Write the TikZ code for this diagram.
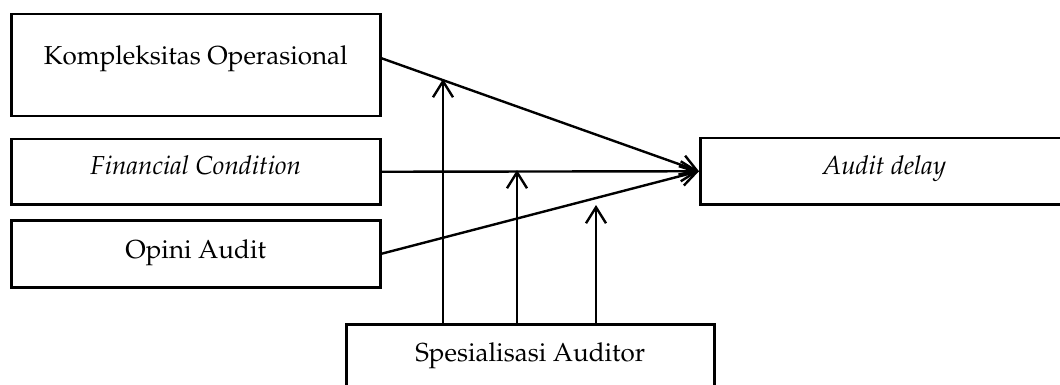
\documentclass[tikz,border=0pt]{standalone}
\usepackage[T1]{fontenc}
\usepackage{mathpazo}
\usetikzlibrary{arrows.meta}
\begin{document}
\begin{tikzpicture}[x=1pt,y=-1pt,
  box/.style={draw, line width=2.5pt, inner sep=0pt, anchor=north west,
    font=\fontsize{26}{30}\selectfont},
  link/.style={line width=2.4pt,
    -{Straight Barb[length=16pt,width=20pt,line width=2.4pt]}}]
\useasboundingbox (0,0) rectangle (1060,385);
\clip (0,0) rectangle (1060,385);

% independent variables
\node[box, minimum width=369pt, text height=50pt, text depth=52pt] (kom) at (10,13) {Kompleksitas Operasional};
\node[box, minimum width=369pt, text height=35pt, text depth=30pt] (fin) at (10,138) {\itshape Financial Condition};
\node[box, minimum width=369pt, text height=38pt, text depth=29pt] (opi) at (10,219) {Opini Audit};

% dependent variable
\node[box, minimum width=368pt, text height=36pt, text depth=30pt] (ad) at (699,137) {\itshape Audit delay};

% moderating variable
\node[box, minimum width=368pt, text height=37pt, text depth=50pt] (spe) at (345,323) {Spesialisasi Auditor};

% direct effects
\draw[link] ([yshift=7pt]kom.east) -- (ad.west);
\draw[link] (fin.east) -- (ad.west);
\draw[link] (opi.east) -- (ad.west);

% moderation points on the paths
\coordinate (m1) at (443,79);
\coordinate (m2) at (517,170);
\coordinate (m3) at (596,205);
\draw[link] (spe.north -| m1) -- (m1);
\draw[link] (spe.north -| m2) -- (m2);
\draw[link] (spe.north -| m3) -- (m3);
\end{tikzpicture}
\end{document}
